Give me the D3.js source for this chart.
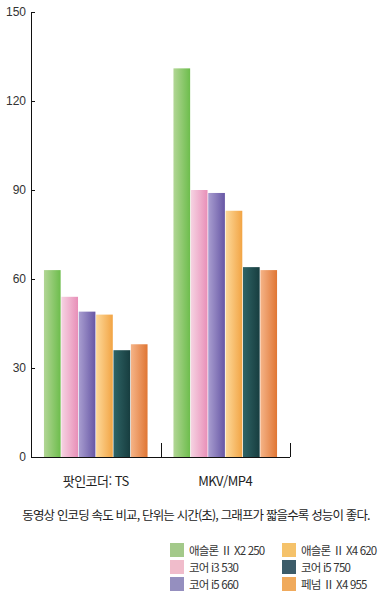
<!DOCTYPE html>
<html lang="ko">
<head>
<meta charset="utf-8">
<title>인코딩 속도 비교</title>
<script src="https://cdn.jsdelivr.net/npm/d3@7"></script>
<style>
  body { margin: 0; background: #fff; }
  svg text { font-family: "Noto Sans CJK KR", "Noto Sans", sans-serif; fill: #222; }
  .axis path, .axis line { stroke: #111; shape-rendering: crispEdges; }
</style>
</head>
<body>
<script>
// data
var categories = ["팟인코더: TS", "MKV/MP4"];
var cpus = ["애슬론 Ⅱ X2 250", "코어 i3 530", "코어 i5 660", "애슬론 Ⅱ X4 620", "코어 i5 750", "페넘 Ⅱ X4 955"];
var tsValues = [63, 54, 49, 48, 36, 38];
var mkvValues = [131, 90, 89, 83, 64, 63];
var yTicks = [0, 30, 60, 90, 120, 150];
var caption = "동영상 인코딩 속도 비교, 단위는 시간(초), 그래프가 짧을수록 성능이 좋다.";

// light -> dark gradient stops per series
var lightCols = ["#b2d695", "#f6d3e2", "#a99ed0", "#fdd99a", "#2f6466", "#f5b488"];
var darkCols  = ["#6dbd4c", "#e88fb8", "#6757a5", "#f2a444", "#173d3f", "#e07634"];
var legendCols = ["#a3c98a", "#f0bccb", "#958fbf", "#f5c26a", "#3c5c69", "#f0aa5c"];

var w = 380, h = 600;
var x0 = 31, x1 = 290, yTop = 12, yBase = 457;

var svg = d3.select("body").append("svg")
    .attr("width", w)
    .attr("height", h);

var defs = svg.append("defs");
cpus.forEach(function(c, i) {
    var g = defs.append("linearGradient")
        .attr("id", "grad" + i)
        .attr("x1", "0%").attr("x2", "100%")
        .attr("y1", "0%").attr("y2", "0%");
    g.append("stop").attr("offset", "0%").attr("stop-color", lightCols[i]);
    g.append("stop").attr("offset", "100%").attr("stop-color", darkCols[i]);
});

var xScale = d3.scaleBand()
    .domain(categories)
    .range([x0, x1])
    .paddingInner(0.2)
    .paddingOuter(0.1);

var xInner = d3.scaleBand()
    .domain(d3.range(cpus.length))
    .range([0, xScale.bandwidth()])
    .paddingInner(0.04);

var yScale = d3.scaleLinear()
    .domain([0, 150])
    .range([yBase, yTop]);

var data = [tsValues, mkvValues];

// bars
var groups = svg.selectAll("g.grp")
    .data(categories)
    .enter()
    .append("g")
    .attr("class", "grp")
    .attr("transform", function(d) { return "translate(" + xScale(d) + ",0)"; });

groups.selectAll("rect")
    .data(function(d, gi) { return data[gi]; })
    .enter()
    .append("rect")
    .attr("x", function(d, i) { return xInner(i); })
    .attr("y", function(d) { return yScale(d); })
    .attr("width", xInner.bandwidth())
    .attr("height", function(d) { return yBase - yScale(d); })
    .attr("fill", function(d, i) { return "url(#grad" + i + ")"; });

// y axis, ticks pointing inward
var yAxis = d3.axisRight(yScale)
    .tickValues(yTicks)
    .tickSize(4)
    .tickSizeOuter(0);

var yG = svg.append("g")
    .attr("class", "axis")
    .attr("transform", "translate(" + x0 + ",0)")
    .call(yAxis);
yG.selectAll("text")
    .attr("text-anchor", "end")
    .attr("x", -5)
    .style("font-family", "Liberation Sans, Arial, sans-serif")
    .style("font-size", "12px")
    .style("fill", "#333");

// x axis baseline
var xAxis = d3.axisTop(xScale)
    .tickSize(0)
    .tickFormat("");
var xG = svg.append("g")
    .attr("class", "axis")
    .attr("transform", "translate(0," + yBase + ")")
    .call(xAxis);
xG.select(".domain").attr("d", "M" + x0 + ",0H" + x1);

// group separators
svg.selectAll("line.sep")
    .data([xScale(categories[1]) - xScale.step() * xScale.paddingInner() / 2, x1])
    .enter()
    .append("line")
    .attr("class", "sep")
    .attr("x1", function(d) { return Math.round(d) + 0.5; })
    .attr("x2", function(d) { return Math.round(d) + 0.5; })
    .attr("y1", yBase - 14)
    .attr("y2", yBase)
    .attr("stroke", "#111");

// category labels
svg.selectAll("text.cat")
    .data(categories)
    .enter()
    .append("text")
    .attr("class", "cat")
    .attr("x", function(d) { return xScale(d) + xScale.bandwidth() / 2; })
    .attr("y", 486)
    .attr("text-anchor", "middle")
    .style("font-size", "13px")
    .style("letter-spacing", "-0.5px")
    .text(function(d) { return d; });

// caption
svg.append("text")
    .attr("x", 196)
    .attr("y", 520)
    .attr("text-anchor", "middle")
    .style("font-size", "12.5px")
    .style("letter-spacing", "-0.85px")
    .text(caption);

// legend
var legend = svg.selectAll("g.leg")
    .data(cpus)
    .enter()
    .append("g")
    .attr("class", "leg")
    .attr("transform", function(d, i) {
        var col = Math.floor(i / 3), row = i % 3;
        return "translate(" + (170 + col * 112) + "," + (543 + row * 17) + ")";
    });

legend.append("rect")
    .attr("width", 14)
    .attr("height", 14)
    .attr("fill", function(d, i) { return legendCols[i]; });

legend.append("text")
    .attr("x", 19)
    .attr("y", 11.5)
    .style("font-size", "11.5px")
    .style("letter-spacing", "-0.8px")
    .style("fill", "#333")
    .text(function(d) { return d; });
</script>
</body>
</html>
